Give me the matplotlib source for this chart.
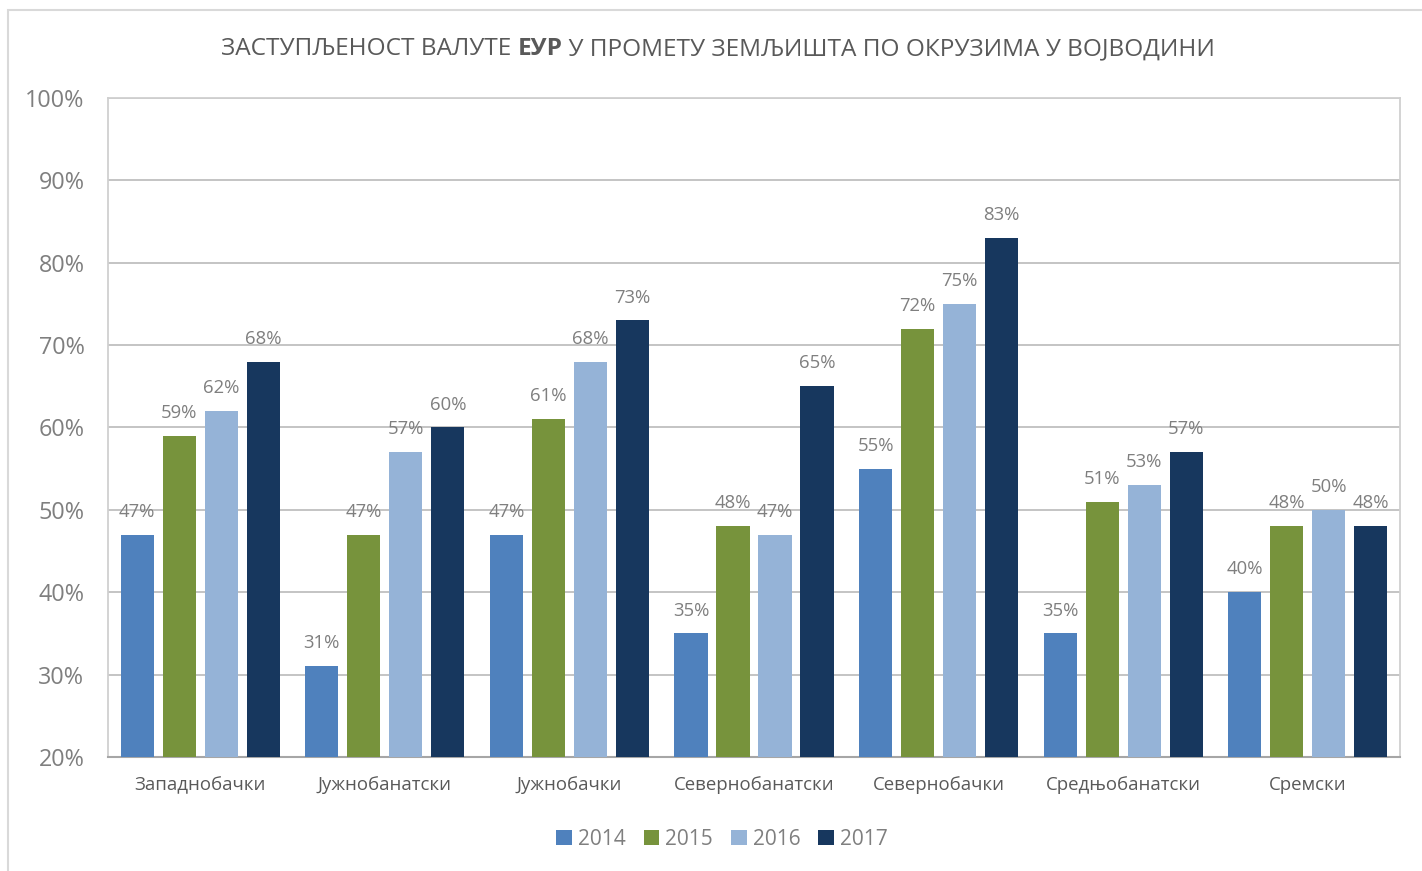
import numpy as np
import matplotlib
matplotlib.use('Agg')
import matplotlib.pyplot as plt
from matplotlib.patches import Rectangle

plt.rcParams['font.family'] = ['Open Sans', 'DejaVu Sans']

# data (percent)
districts = ['Западнобачки', 'Јужнобанатски', 'Јужнобачки', 'Севернобанатски',
             'Севернобачки', 'Средњобанатски', 'Сремски']
years = ['2014', '2015', '2016', '2017']
eur_2014 = [47, 31, 47, 35, 55, 35, 40]
eur_2015 = [59, 47, 61, 48, 72, 51, 48]
eur_2016 = [62, 57, 68, 47, 75, 53, 50]
eur_2017 = [68, 60, 73, 65, 83, 57, 48]
yticks = [20, 30, 40, 50, 60, 70, 80, 90, 100]

series = [eur_2014, eur_2015, eur_2016, eur_2017]
colors = ['#4F81BD', '#77933C', '#95B3D7', '#17375E']
grey = '#7F7F7F'

fig = plt.figure(figsize=(14.22, 8.71), dpi=100)
ax = fig.add_axes([108 / 1422, 1 - 757 / 871, 1292 / 1422, 659 / 871])

x = np.arange(len(districts))
step = 0.2275
width = 0.179
for i, (vals, col) in enumerate(zip(series, colors)):
    pos = x + (i - 1.5) * step
    ax.bar(pos, np.array(vals) - 20, width, bottom=20, color=col,
           label=years[i], zorder=3)
    for p, v in zip(pos, vals):
        ax.annotate(f'{v}%', (p, v), xytext=(0, 10), textcoords='offset points',
                    ha='center', va='bottom', fontsize=13.3, color=grey)

ax.set_xlim(-0.5, len(districts) - 0.5)
ax.set_ylim(20, 100)
ax.set_yticks(yticks)
ax.set_yticklabels([f'{t}%' for t in yticks], fontsize=16.8, color=grey)
ax.set_xticks(x)
ax.set_xticklabels(districts, fontsize=13.4, color='#595959')
ax.tick_params(axis='x', length=0, pad=14)
ax.tick_params(axis='y', length=0, pad=17)
ax.grid(axis='y', color='#BFBFBF', linewidth=1.3, zorder=0)
for s in ['top', 'left', 'right']:
    ax.spines[s].set_color('#D0D0D0')
    ax.spines[s].set_linewidth(1.3)
ax.spines['bottom'].set_color('#A6A6A6')
ax.spines['bottom'].set_linewidth(1.5)

ax.legend(loc='upper center', bbox_to_anchor=(722 / 1422, 1 - 810 / 871),
          bbox_transform=fig.transFigure, ncol=4, frameon=False, fontsize=15,
          handlelength=0.75, handleheight=0.75, handletextpad=0.3,
          columnspacing=0.85, labelcolor=grey)

# outer chart border (partially cropped in the reference)
fig.add_artist(Rectangle((8 / 1422, -0.05), 1.2, 1 - 10 / 871 + 0.05,
                         transform=fig.transFigure, fill=False,
                         edgecolor='#D9D9D9', linewidth=1.5))

# title with bold "ЕУР" in the middle
parts = [('ЗАСТУПЉЕНОСТ ВАЛУТЕ ', 'normal'), ('ЕУР', 'bold'),
         (' У ПРОМЕТУ ЗЕМЉИШТА ПО ОКРУЗИМА У ВОЈВОДИНИ', 'normal')]
fig.canvas.draw()
renderer = fig.canvas.get_renderer()
texts = []
for s, w in parts:
    t = fig.text(0, 1 - 49 / 871, s, fontsize=17.6, color='#595959',
                 fontweight=w, va='center', ha='left')
    texts.append(t)
widths = [t.get_window_extent(renderer).width for t in texts]
x0 = (718 - sum(widths) / 2)
for t, w in zip(texts, widths):
    t.set_x(x0 / 1422)
    x0 += w

fig.savefig('out.png', dpi=100)
